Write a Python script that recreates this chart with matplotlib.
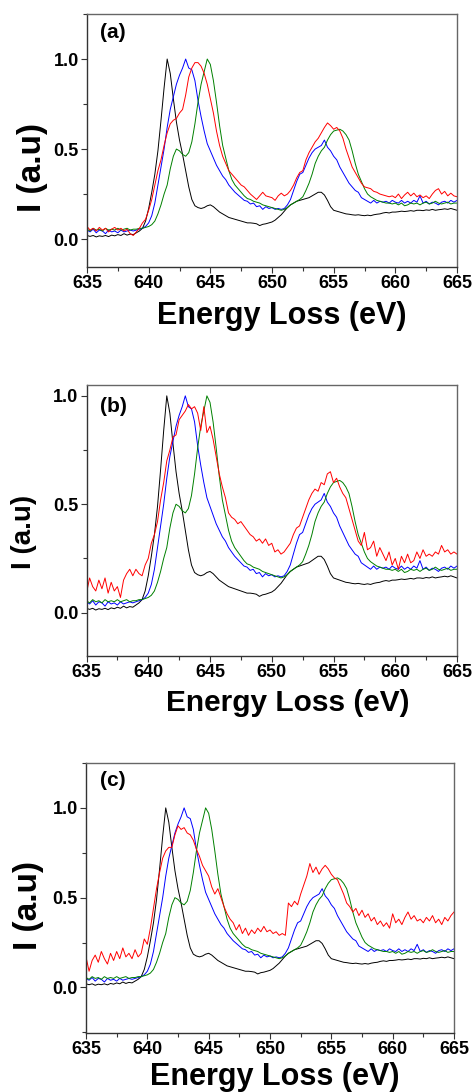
import numpy as np
import matplotlib
matplotlib.use("Agg")
import matplotlib.pyplot as plt
from matplotlib.ticker import MultipleLocator

plt.rcParams['font.family'] = ['Liberation Sans', 'DejaVu Sans']
plt.rcParams['font.weight'] = 'bold'

# Energy axis (eV), 0.25 eV steps from 635 to 665
energy = np.arange(635.0, 665.0001, 0.25)

black = [0.02,0.015,0.02,0.012,0.018,0.015,0.02,0.014,0.022,0.018,0.025,0.02,0.03,0.022,0.028,0.025,
         0.035,0.045,0.06,0.10, 0.17,0.26,0.36,0.49, 0.66,0.84,1.00,0.92, 0.78,0.65,0.55,0.47,
         0.38,0.29,0.22,0.185, 0.175,0.17,0.175,0.185, 0.19,0.18,0.165,0.15, 0.14,0.13,0.12,0.115,
         0.11,0.105,0.10,0.095, 0.09,0.09,0.088,0.085, 0.075,0.082,0.085,0.09, 0.095,0.105,0.12,0.135,
         0.155,0.175,0.19,0.20, 0.21,0.215,0.22,0.225, 0.23,0.24,0.25,0.26, 0.26,0.245,0.215,0.18,
         0.16,0.155,0.15,0.145, 0.14,0.138,0.135,0.133, 0.135,0.132,0.13,0.133, 0.13,0.135,0.138,0.14,
         0.145,0.148,0.145,0.15, 0.15,0.152,0.155,0.153, 0.155,0.158,0.155,0.16, 0.16,0.158,0.162,0.16,
         0.165,0.16,0.163,0.165, 0.168,0.165,0.17,0.165, 0.16]

blue = [0.05,0.04,0.055,0.035,0.05,0.045,0.03,0.05,0.04,0.045,0.035,0.05,0.04,0.045,0.05,0.045,
        0.05,0.055,0.06,0.07, 0.09,0.13,0.2,0.3, 0.40,0.50,0.62,0.72, 0.79,0.86,0.91,0.95,
        1.00,0.95,0.94,0.88, 0.77,0.68,0.60,0.53, 0.49,0.45,0.41,0.38, 0.35,0.33,0.30,0.28,
        0.26,0.245,0.23,0.215, 0.21,0.195,0.20,0.18, 0.185,0.165,0.18,0.17, 0.175,0.165,0.17,0.165,
        0.17,0.19,0.22,0.27, 0.32,0.36,0.37,0.41, 0.45,0.48,0.50,0.51, 0.52,0.55,0.51,0.49,
        0.46,0.44,0.40,0.37, 0.34,0.31,0.29,0.27, 0.26,0.23,0.22,0.21, 0.20,0.215,0.20,0.21,
        0.205,0.21,0.2,0.215, 0.205,0.2,0.215,0.2, 0.21,0.2,0.215,0.205, 0.24,0.2,0.21,0.195,
        0.205,0.2,0.19,0.205, 0.21,0.2,0.215,0.205, 0.215]

green = [0.055,0.045,0.06,0.05,0.055,0.045,0.06,0.05,0.055,0.05,0.06,0.05,0.055,0.06,0.05,0.055,
         0.055,0.06,0.06,0.065, 0.07,0.08,0.10,0.14, 0.19,0.25,0.30,0.39, 0.46,0.50,0.49,0.47,
         0.46,0.48,0.54,0.64, 0.76,0.86,0.93,1.00, 0.97,0.88,0.76,0.63, 0.52,0.45,0.38,0.33,
         0.30,0.28,0.26,0.24, 0.225,0.22,0.21,0.205, 0.2,0.19,0.185,0.18, 0.175,0.17,0.165,0.16,
         0.165,0.175,0.19,0.2, 0.21,0.22,0.235,0.27, 0.31,0.36,0.42,0.46, 0.49,0.51,0.55,0.58,
         0.60,0.605,0.61,0.60, 0.58,0.55,0.49,0.42, 0.36,0.32,0.28,0.25, 0.235,0.225,0.215,0.21,
         0.205,0.2,0.2,0.195, 0.2,0.19,0.2,0.185, 0.19,0.2,0.195,0.2, 0.19,0.2,0.205,0.195,
         0.2,0.21,0.2,0.195, 0.2,0.205,0.195,0.2, 0.2]

red_a = [0.07,0.05,0.06,0.045,0.065,0.05,0.06,0.04,0.055,0.065,0.05,0.06,0.045,0.055,0.03,0.02,
         0.04,0.06,0.09,0.11, 0.16,0.22,0.30,0.38, 0.44,0.52,0.59,0.64, 0.66,0.67,0.70,0.72,
         0.80,0.90,0.95,0.98, 0.98,0.96,0.92,0.86, 0.78,0.70,0.60,0.52, 0.46,0.42,0.38,0.36,
         0.34,0.32,0.30,0.29, 0.27,0.25,0.235,0.22, 0.24,0.26,0.24,0.235, 0.23,0.215,0.24,0.255,
         0.24,0.25,0.27,0.30, 0.34,0.37,0.38,0.44, 0.48,0.51,0.54,0.56, 0.59,0.62,0.645,0.63,
         0.61,0.62,0.60,0.56, 0.50,0.45,0.40,0.37, 0.34,0.31,0.29,0.285, 0.28,0.265,0.26,0.25,
         0.245,0.24,0.235,0.24, 0.23,0.25,0.225,0.245, 0.26,0.24,0.255,0.235, 0.245,0.23,0.24,0.225,
         0.25,0.27,0.28,0.25, 0.265,0.24,0.255,0.24, 0.235]

red_b = [0.09,0.16,0.12,0.10,0.15,0.11,0.16,0.09,0.14,0.10,0.12,0.07,0.15,0.18,0.20,0.17,
         0.20,0.18,0.17,0.22, 0.25,0.32,0.36,0.42, 0.52,0.60,0.70,0.75, 0.81,0.82,0.89,0.91,
         0.93,0.96,0.94,0.95, 0.92,0.84,0.95,0.83, 0.86,0.80,0.72,0.64, 0.58,0.53,0.46,0.44,
         0.43,0.41,0.42,0.40, 0.38,0.36,0.35,0.33, 0.34,0.32,0.34,0.31, 0.32,0.28,0.29,0.27,
         0.28,0.30,0.32,0.36, 0.39,0.40,0.44,0.48, 0.52,0.55,0.57,0.56, 0.60,0.59,0.64,0.65,
         0.60,0.62,0.58,0.55, 0.53,0.48,0.43,0.38, 0.33,0.31,0.37,0.29, 0.30,0.33,0.26,0.30,
         0.27,0.24,0.28,0.22, 0.25,0.20,0.26,0.23, 0.27,0.23,0.24,0.28, 0.25,0.29,0.26,0.27,
         0.26,0.28,0.27,0.31, 0.28,0.29,0.27,0.28, 0.27]

red_c = [0.17,0.09,0.15,0.18,0.14,0.20,0.16,0.13,0.19,0.15,0.20,0.16,0.22,0.17,0.19,0.16,
         0.21,0.17,0.19,0.27, 0.24,0.33,0.44,0.55, 0.64,0.72,0.76,0.78, 0.78,0.85,0.90,0.88,
         0.89,0.86,0.85,0.82, 0.77,0.73,0.68,0.65, 0.62,0.56,0.52,0.55, 0.50,0.45,0.41,0.38,
         0.36,0.32,0.35,0.30, 0.33,0.29,0.32,0.30, 0.33,0.31,0.34,0.31, 0.32,0.30,0.31,0.29,
         0.30,0.29,0.47,0.45, 0.48,0.46,0.52,0.57, 0.62,0.69,0.64,0.67, 0.63,0.66,0.68,0.66,
         0.63,0.61,0.60,0.56, 0.52,0.47,0.45,0.42, 0.44,0.40,0.43,0.39, 0.41,0.37,0.39,0.35,
         0.37,0.34,0.36,0.33, 0.41,0.36,0.38,0.35, 0.39,0.42,0.38,0.40, 0.37,0.38,0.36,0.39,
         0.37,0.40,0.36,0.38, 0.35,0.39,0.37,0.40, 0.42]

panel_labels = ['(a)', '(b)', '(c)']
red_series = [red_a, red_b, red_c]
xticks = [635, 640, 645, 650, 655, 660, 665]
yticks = [0.0, 0.5, 1.0]
ylims = [(-0.155, 1.25), (-0.2, 1.05), (-0.254, 1.25)]

W, H = 476, 1092
fig = plt.figure(figsize=(W / 100, H / 100), dpi=100)

# axes boxes in pixels: left, right, top, bottom
boxes = [(87, 457, 14, 267), (86.5, 457, 385, 656), (86, 454, 763, 1033)]
ylab = [(33, 167, 24), (24, 532, 20), (28, 906, 24)]
xlab = [(282, 316, 22), (288, 703, 21.5), (275, 1077, 22)]
plab_y = [32, 406, 781]

for i in range(3):
    l, r, t, b = boxes[i]
    ax = fig.add_axes([l / W, 1 - b / H, (r - l) / W, (b - t) / H])
    ax.plot(energy, black, color='black', lw=0.7)
    ax.plot(energy, blue, color='#0000ff', lw=0.7)
    ax.plot(energy, green, color='#008000', lw=0.7)
    ax.plot(energy, red_series[i], color='#ff0000', lw=0.7)
    ax.set_xlim(635, 665)
    ax.set_ylim(*ylims[i])
    ax.set_xticks(xticks)
    ax.set_yticks(yticks)
    ax.xaxis.set_minor_locator(MultipleLocator(2.5))
    ax.yaxis.set_minor_locator(MultipleLocator(0.25))
    ax.tick_params(which='both', direction='out', top=False, right=False,
                   colors='#333333', labelcolor='black', labelsize=13, width=0.8)
    ax.tick_params(which='major', length=4, pad=2)
    ax.tick_params(which='minor', length=3)
    ax.set_xticklabels([str(v) for v in xticks], fontweight='bold')
    ax.set_yticklabels(['%.1f' % v for v in yticks], fontweight='bold')
    for s in ['left', 'bottom']:
        ax.spines[s].set_color('#333333')
        ax.spines[s].set_linewidth(1.0)
    for s in ['top', 'right']:
        ax.spines[s].set_color('#666666')
        ax.spines[s].set_linewidth(1.0)
    fig.text(100 / W, 1 - plab_y[i] / H, panel_labels[i], fontsize=15,
             fontweight='bold', ha='left', va='center')
    x0, y0, fs = ylab[i]
    fig.text(x0 / W, 1 - y0 / H, 'I (a.u)', rotation=90, fontsize=fs,
             fontweight='bold', ha='center', va='center')
    x1, y1, fs2 = xlab[i]
    fig.text(x1 / W, 1 - y1 / H, 'Energy Loss (eV)', fontsize=fs2,
             fontweight='bold', ha='center', va='center')

fig.savefig('out.png', dpi=100, facecolor='white')
